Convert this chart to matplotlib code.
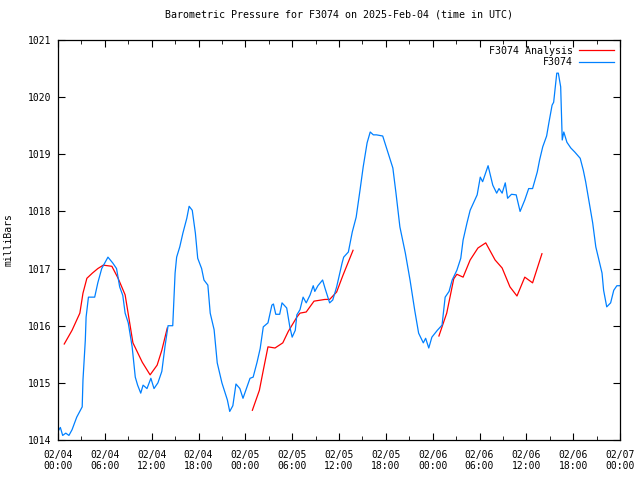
import matplotlib
matplotlib.use("Agg")
import matplotlib.pyplot as plt
from matplotlib.ticker import MultipleLocator

# time in hours since 2025-02-04 00:00 UTC, pressure in mb
obs_hours = [0.0, 0.3, 0.6, 1.0, 1.4, 1.8, 2.4, 3.1, 3.2, 3.5, 3.6, 3.9, 4.7, 5.1,
             5.6, 6.4, 7.0, 7.5, 7.9, 8.3, 8.6, 9.0, 9.5, 9.9, 10.2, 10.6, 10.9,
             11.4, 11.9, 12.3, 12.8, 13.3, 13.7, 14.1, 14.7, 15.0, 15.2, 15.6,
             16.0, 16.5, 16.8, 17.2, 17.6, 17.9, 18.4, 18.7, 19.2, 19.5, 20.0,
             20.4, 21.0, 21.7, 22.0, 22.4, 22.8, 23.3, 23.7, 24.6, 25.0, 25.5,
             25.9, 26.3, 26.9, 27.4, 27.6, 27.9, 28.4, 28.7, 29.3, 29.7, 30.0,
             30.4, 30.6, 31.0, 31.4, 31.8, 32.3, 32.7, 32.9, 33.3, 33.9, 34.2,
             34.8, 35.2, 35.7, 36.4, 36.6, 37.2, 37.7, 38.2, 38.7, 39.1, 39.6,
             40.0, 40.4, 40.8, 41.6, 42.3, 42.9, 43.3, 43.8, 44.5, 45.1, 45.7,
             46.2, 46.8, 47.1, 47.5, 47.9, 48.6, 49.2, 49.6, 50.1, 50.5, 51.1,
             51.6, 51.9, 52.4, 52.8, 53.2, 53.7, 54.1, 54.4, 55.1, 55.7, 56.2,
             56.5, 56.9, 57.3, 57.6, 58.1, 58.7, 59.2, 59.8, 60.3, 60.8, 61.4,
             61.7, 62.1, 62.6, 62.9, 63.3, 63.5, 63.9, 64.1, 64.4, 64.6, 64.8,
             65.2, 65.7, 66.2, 66.9, 67.3, 67.6, 68.0, 68.5, 68.9, 69.3, 69.7,
             69.9, 70.3, 70.8, 71.2, 71.6, 72.0]
obs_mb = [1014.15, 1014.22, 1014.08, 1014.12, 1014.08, 1014.18, 1014.4, 1014.58,
          1015.05, 1015.75, 1016.15, 1016.5, 1016.5, 1016.75, 1017.0, 1017.2,
          1017.1, 1017.0, 1016.68, 1016.53, 1016.22, 1016.05, 1015.63, 1015.1,
          1014.96, 1014.82, 1014.96, 1014.9, 1015.08, 1014.9, 1015.0, 1015.2,
          1015.63, 1016.0, 1016.0, 1016.92, 1017.2, 1017.38, 1017.62, 1017.88,
          1018.09, 1018.02, 1017.62, 1017.18, 1017.0, 1016.8, 1016.71, 1016.22,
          1015.93, 1015.35, 1015.0, 1014.7, 1014.5, 1014.6, 1014.98, 1014.9,
          1014.73, 1015.08, 1015.1, 1015.36, 1015.6, 1015.98, 1016.05, 1016.36,
          1016.38, 1016.2, 1016.2, 1016.4, 1016.31, 1015.98, 1015.8, 1015.92,
          1016.19, 1016.28, 1016.5, 1016.4, 1016.54, 1016.7, 1016.6, 1016.7,
          1016.8, 1016.66, 1016.4, 1016.45, 1016.68, 1017.1, 1017.2, 1017.29,
          1017.64, 1017.9, 1018.38, 1018.78, 1019.2, 1019.39, 1019.34, 1019.34,
          1019.32, 1019.02, 1018.76, 1018.32, 1017.73, 1017.27, 1016.8, 1016.27,
          1015.87, 1015.7, 1015.78, 1015.61, 1015.8, 1015.92, 1016.01, 1016.5,
          1016.6, 1016.8, 1016.97, 1017.18, 1017.5, 1017.8, 1018.02, 1018.14,
          1018.29, 1018.6, 1018.52, 1018.8, 1018.46, 1018.32, 1018.4, 1018.32,
          1018.5, 1018.23, 1018.3, 1018.29, 1018.0, 1018.2, 1018.4, 1018.4,
          1018.69, 1018.9, 1019.13, 1019.32, 1019.56, 1019.86, 1019.91, 1020.42,
          1020.42, 1020.18, 1019.25, 1019.39, 1019.21, 1019.11, 1019.04, 1018.93,
          1018.72, 1018.52, 1018.2, 1017.8, 1017.38, 1017.15, 1016.92, 1016.62,
          1016.33, 1016.4, 1016.62, 1016.7, 1016.7]

# analysis comes in three separate runs
ana1_hours = [0.8, 1.8, 2.8, 3.2, 3.7, 4.4, 5.1, 5.8, 6.9, 7.7, 8.6, 9.6, 10.8,
              11.8, 12.7, 13.3, 14.0]
ana1_mb = [1015.68, 1015.92, 1016.22, 1016.57, 1016.83, 1016.92, 1017.0, 1017.06,
           1017.04, 1016.83, 1016.54, 1015.7, 1015.36, 1015.14, 1015.31, 1015.57,
           1015.96]
ana2_hours = [24.9, 25.8, 26.3, 26.9, 27.8, 28.8, 29.5, 30.6, 31.0, 31.8, 32.8,
              34.2, 34.8, 35.7, 36.5, 37.8]
ana2_mb = [1014.52, 1014.87, 1015.22, 1015.63, 1015.61, 1015.7, 1015.9, 1016.15,
           1016.22, 1016.24, 1016.43, 1016.46, 1016.46, 1016.59, 1016.88, 1017.32]
ana3_hours = [48.8, 49.8, 50.7, 51.1, 51.9, 52.8, 53.8, 54.8, 56.0, 56.9, 57.9,
              58.8, 59.8, 60.8, 62.0]
ana3_mb = [1015.82, 1016.22, 1016.82, 1016.9, 1016.85, 1017.15, 1017.36, 1017.45,
           1017.15, 1017.01, 1016.68, 1016.52, 1016.85, 1016.75, 1017.26]

tick_hours = list(range(0, 73, 6))
tick_labels = ["02/04\n00:00", "02/04\n06:00", "02/04\n12:00", "02/04\n18:00",
               "02/05\n00:00", "02/05\n06:00", "02/05\n12:00", "02/05\n18:00",
               "02/06\n00:00", "02/06\n06:00", "02/06\n12:00", "02/06\n18:00",
               "02/07\n00:00"]

plt.rcParams['font.family'] = 'DejaVu Sans Mono'
plt.rcParams['font.size'] = 7

fig = plt.figure(figsize=(6.4, 4.8), dpi=100)
ax = fig.add_axes([58 / 640, 40 / 480, 562 / 640, 400 / 480])

red = '#ff0000'
blue = '#0080ff'
ax.plot(ana1_hours, ana1_mb, color=red, lw=0.9, label='F3074 Analysis')
ax.plot(ana2_hours, ana2_mb, color=red, lw=0.9)
ax.plot(ana3_hours, ana3_mb, color=red, lw=0.9)
ax.plot(obs_hours, obs_mb, color=blue, lw=0.9, label='F3074')

ax.set_xlim(0, 72)
ax.set_ylim(1014, 1021)
ax.set_xticks(tick_hours)
ax.set_xticklabels(tick_labels)
ax.xaxis.set_minor_locator(MultipleLocator(3))
ax.set_yticks(range(1014, 1022))
ax.tick_params(which='both', direction='in', top=True, right=True)
ax.tick_params(axis='x', pad=7)
ax.tick_params(axis='y', pad=5)
ax.tick_params(which='major', length=5)
ax.tick_params(which='minor', length=3)
for s in ax.spines.values():
    s.set_linewidth(0.9)

ax.set_title('Barometric Pressure for F3074 on 2025-Feb-04 (time in UTC)',
             fontsize=7.2, pad=16)
ax.set_ylabel('milliBars', labelpad=10)

ax.legend(loc='upper right', frameon=False, markerfirst=False, handlelength=3.5,
          borderaxespad=0.2, labelspacing=0.15, handletextpad=0.6,
          fontsize=7.2)

fig.savefig('out.png', dpi=100)
